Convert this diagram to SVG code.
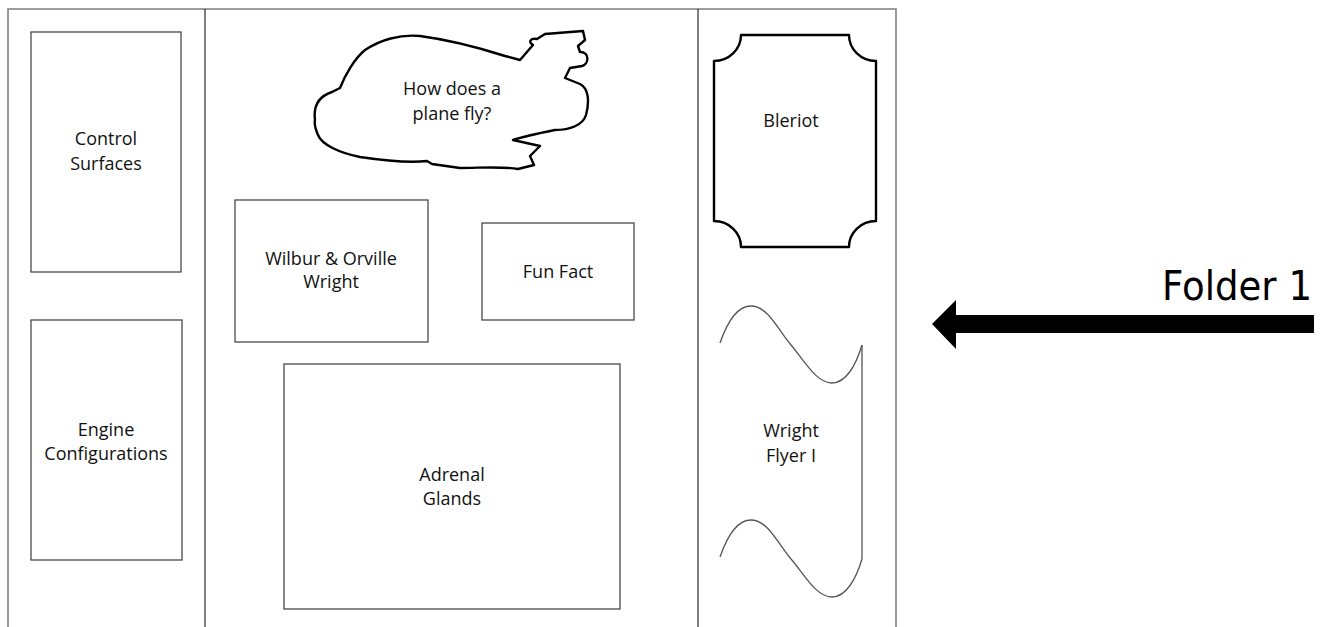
<svg xmlns="http://www.w3.org/2000/svg" width="1326" height="627" viewBox="0 0 1326 627">
  <style>
    .frame { fill: none; stroke: #7f7f7f; stroke-width: 1.6; }
    .divider { fill: none; stroke: #000; stroke-width: 1; }
    .box { fill: #fff; stroke: #4a4a4a; stroke-width: 1.3; }
    .outline { fill: #fff; stroke: #000; stroke-width: 2.4; stroke-linejoin: round; }
    .wave { fill: none; stroke: #555; stroke-width: 1.3; }
    .label { font-family: "Open Sans", "Liberation Sans", sans-serif; font-size: 18px; fill: #111; text-anchor: middle; }
    .big { font-family: "DejaVu Sans", "Liberation Sans", sans-serif; font-size: 40px; fill: #000; text-anchor: end; }
  </style>

  <!-- folder panels -->
  <g id="panels">
    <path class="frame" d="M8,627 V9 H896 V627"/>
    <line class="divider" x1="205" y1="9" x2="205" y2="627"/>
    <line class="divider" x1="698" y1="9" x2="698" y2="627"/>
  </g>

  <g id="control-surfaces">
    <rect class="box" x="31" y="32" width="150" height="240"/>
    <text class="label" x="106" y="145">Control</text>
    <text class="label" x="106" y="170">Surfaces</text>
  </g>

  <g id="engine-configurations">
    <rect class="box" x="31" y="320" width="151" height="240"/>
    <text class="label" x="106" y="436">Engine</text>
    <text class="label" x="106" y="460">Configurations</text>
  </g>

  <g id="plane-question">
    <path class="outline" d="M315,120 C313,105 320,96 332,92 L340,88 C345,75 355,58 365,50 C380,40 400,34 420,36 C450,40 480,48 505,56 L520,60 L533,45 C528,42 530,38 537,39 L545,34 L583,31 L585,40 L578,46 L580,52 C590,52 589,64 582,66 L570,68 L565,78 L580,84 C588,88 590,100 586,115 C583,125 570,130 555,130 C540,133 525,136 513,140 L540,146 L530,156 L534,165 L518,169 C500,166 480,168 460,168 L432,164 L427,161 C410,163 380,160 360,157 C340,153 322,145 318,135 C315,128 314,124 315,120 Z"/>
    <text class="label" x="452" y="95">How does a</text>
    <text class="label" x="452" y="120">plane fly?</text>
  </g>

  <g id="wright-brothers">
    <rect class="box" x="235" y="200" width="193" height="142"/>
    <text class="label" x="331" y="265">Wilbur &amp; Orville</text>
    <text class="label" x="331" y="288">Wright</text>
  </g>

  <g id="fun-fact">
    <rect class="box" x="482" y="223" width="152" height="97"/>
    <text class="label" x="558" y="278">Fun Fact</text>
  </g>

  <g id="adrenal-glands">
    <rect class="box" x="284" y="364" width="336" height="245"/>
    <text class="label" x="452" y="481">Adrenal</text>
    <text class="label" x="452" y="505">Glands</text>
  </g>

  <g id="bleriot">
    <path class="outline" d="M741,35 H849 A27,26 0 0 0 876,61 V221 A27,26 0 0 0 849,247 H741 A27,26 0 0 0 714,221 V61 A27,26 0 0 0 741,35 Z"/>
    <text class="label" x="791" y="127">Bleriot</text>
  </g>

  <g id="wright-flyer">
    <path class="wave" d="M720,343 C728,320 738,306 751,306 C768,306 778,330 791,345 C804,360 816,383 832,383 C846,383 856,365 862,345"/>
    <path class="wave" d="M720,557 C728,534 738,520 751,520 C768,520 778,544 791,559 C804,574 816,597 832,597 C846,597 856,579 862,559"/>
    <line class="wave" x1="862" y1="345" x2="862" y2="559"/>
    <text class="label" x="791" y="437">Wright</text>
    <text class="label" x="791" y="462">Flyer I</text>
  </g>

  <g id="folder-label">
    <text class="big" x="1312" y="300" textLength="150" lengthAdjust="spacingAndGlyphs">Folder 1</text>
  </g>

  <g id="connectors">
    <path d="M1314,315 H956 V300 L932,324 L956,349 V333 H1314 Z" fill="#000"/>
  </g>
</svg>
